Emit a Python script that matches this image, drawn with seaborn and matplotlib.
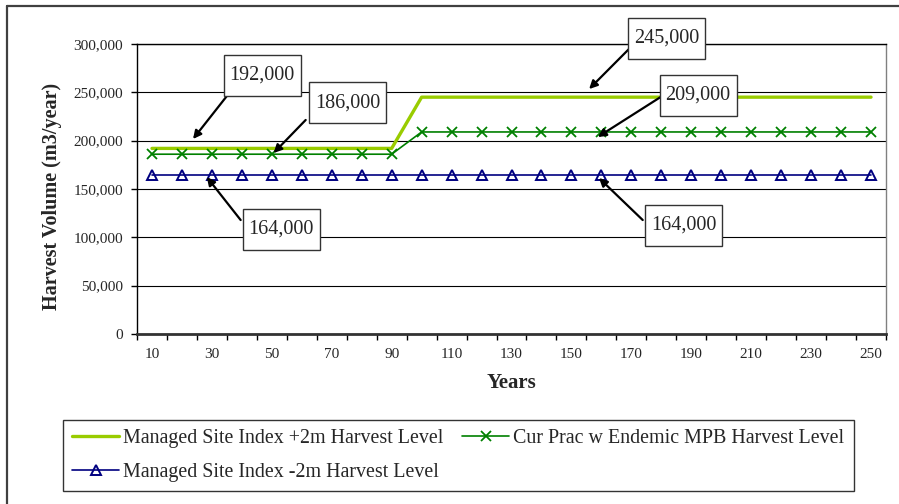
import matplotlib
matplotlib.use("Agg")
import matplotlib.pyplot as plt
from matplotlib.lines import Line2D
from matplotlib.patches import Rectangle
from matplotlib.ticker import FuncFormatter, MultipleLocator, FixedLocator
import seaborn as sns

# Harvest levels by year (m3/year)
years = [10, 20, 30, 40, 50, 60, 70, 80, 90, 100, 110, 120, 130, 140, 150,
         160, 170, 180, 190, 200, 210, 220, 230, 240, 250]
si_plus_2m = [192000, 192000, 192000, 192000, 192000, 192000, 192000, 192000, 192000,
              245000, 245000, 245000, 245000, 245000, 245000, 245000, 245000, 245000,
              245000, 245000, 245000, 245000, 245000, 245000, 245000]
cur_prac_mpb = [186000, 186000, 186000, 186000, 186000, 186000, 186000, 186000, 186000,
                209000, 209000, 209000, 209000, 209000, 209000, 209000, 209000, 209000,
                209000, 209000, 209000, 209000, 209000, 209000, 209000]
si_minus_2m = [164000, 164000, 164000, 164000, 164000, 164000, 164000, 164000, 164000,
               164000, 164000, 164000, 164000, 164000, 164000, 164000, 164000, 164000,
               164000, 164000, 164000, 164000, 164000, 164000, 164000]

labels = ["Managed Site Index +2m Harvest Level",
          "Managed Site Index -2m Harvest Level",
          "Cur Prac w Endemic MPB Harvest Level"]
x_tick_labels = [10, 30, 50, 70, 90, 110, 130, 150, 170, 190, 210, 230, 250]

sns.set_style("white")
plt.rcParams["font.family"] = ["Liberation Serif", "DejaVu Serif"]

fig = plt.figure(figsize=(8.99, 5.04), dpi=100)
ax = fig.add_axes([137 / 899, 1 - 334 / 504, (886 - 137) / 899, (334 - 44) / 504])

sns.lineplot(x=years, y=si_plus_2m, color="#99CC00", linewidth=2.4,
             label=labels[0], ax=ax, zorder=3)
sns.lineplot(x=years, y=si_minus_2m, color="#000080", linewidth=1.2,
             linestyle="-", marker="^", markersize=7.5, markerfacecolor="none",
             markeredgecolor="#000080", markeredgewidth=1.4,
             label=labels[1], ax=ax, zorder=3)
sns.lineplot(x=years, y=cur_prac_mpb, color="#008000", linewidth=1.2,
             linestyle="-", marker="x", markersize=7.5, markeredgewidth=1.3,
             markeredgecolor="#008000",
             label=labels[2], ax=ax, zorder=3)

# Axes ranges and ticks
ax.set_xlim(5, 255)
ax.set_ylim(0, 300000)
ax.yaxis.set_major_locator(MultipleLocator(50000))
ax.yaxis.set_major_formatter(FuncFormatter(lambda v, p: f"{int(v):,}"))
ax.xaxis.set_major_locator(FixedLocator(x_tick_labels))
ax.xaxis.set_minor_locator(FixedLocator([y - 5 for y in years] + [years[-1] + 5]))
ax.tick_params(axis="x", which="major", length=0, pad=10, labelsize=11)
ax.tick_params(axis="x", which="minor", length=4, width=1, direction="out",
               color="black", bottom=True)
ax.tick_params(axis="y", which="major", length=4, width=1, direction="out",
               color="black", left=True, pad=6, labelsize=11)

ax.grid(axis="y", color="black", linewidth=0.8)
ax.set_axisbelow(True)
for side in ["top", "left"]:
    ax.spines[side].set_visible(True)
    ax.spines[side].set_color("black")
    ax.spines[side].set_linewidth(1.0)
ax.spines["right"].set_color("#808080")
ax.spines["right"].set_linewidth(1.0)
ax.spines["bottom"].set_color("#333333")
ax.spines["bottom"].set_linewidth(2.0)

ax.set_xlabel("Years", fontsize=15, fontweight="bold")
ax.set_ylabel("Harvest Volume (m3/year)", fontsize=14.5, fontweight="bold")
ax.xaxis.set_label_coords(0.5, (334 - 383) / 290, transform=ax.transAxes)
ax.xaxis.label.set_va("center")
ax.yaxis.set_label_coords((52 - 137) / 749, (334 - 196) / 290, transform=ax.transAxes)
ax.yaxis.label.set_va("center")

# Value callouts: (value, box centre, arrow tail, arrow tip) in year / volume units
callouts = [
    (si_plus_2m[0], (46.8, 267400), (35.0, 246200), (23.7, 201700)),
    (cur_prac_mpb[4], (75.3, 239000), (61.3, 221400), (50.6, 187200)),
    (si_minus_2m[2], (53.1, 108100), (39.6, 117900), (28.3, 162400)),
    (si_plus_2m[-1], (181.8, 306200), (169.2, 294800), (155.9, 253400)),
    (cur_prac_mpb[15], (192.3, 247200), (179.8, 245200), (158.8, 203800)),
    (si_minus_2m[15], (187.5, 112200), (173.8, 117900), (159.2, 161400)),
]
box_w = 77 / 3.003          # years
box_h = 41 * 1034.5         # m3/year
for value, (cx, cy), tail, tip in callouts:
    ax.annotate("", xy=tip, xytext=tail,
                arrowprops=dict(arrowstyle="-|>", color="black", lw=1.6,
                                mutation_scale=12, shrinkA=0, shrinkB=0),
                annotation_clip=False, zorder=5)
    ax.add_patch(Rectangle((cx - box_w / 2, cy - box_h / 2), box_w, box_h,
                           facecolor="white", edgecolor="#333333", linewidth=1.0,
                           clip_on=False, zorder=6))
    ax.text(cx, cy, f"{value:,}", ha="center", va="center", fontsize=14.5,
            zorder=7, clip_on=False)

# Legend below the plot
leg = ax.legend(loc="upper left", bbox_to_anchor=(63 / 899, 1 - 420 / 504),
                bbox_transform=fig.transFigure, ncol=2, fontsize=14.4,
                frameon=True, fancybox=False, shadow=False, borderaxespad=0,
                handlelength=2.35, handletextpad=0.2, columnspacing=0.95,
                labelspacing=0.75, borderpad=0.45)
leg.get_frame().set_edgecolor("black")
leg.get_frame().set_linewidth(1.0)

# Outer chart frame
fig.add_artist(Line2D([7 / 899, 1], [1 - 6 / 504, 1 - 6 / 504],
                      transform=fig.transFigure, color="#404040", lw=1.6))
fig.add_artist(Line2D([7 / 899, 7 / 899], [0, 1 - 6 / 504],
                      transform=fig.transFigure, color="#404040", lw=1.6))

fig.savefig("out.png", dpi=100)
